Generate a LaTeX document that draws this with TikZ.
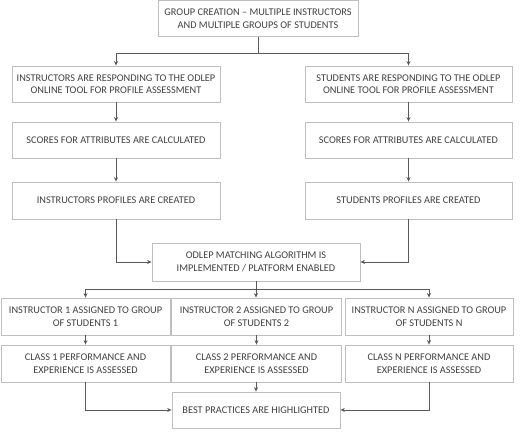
\documentclass[tikz,border=0pt]{standalone}
\usepackage{fontspec}
\setmainfont{Carlito}
\usetikzlibrary{arrows.meta}
\definecolor{boxgray}{HTML}{BFBFBF}
\definecolor{linegray}{HTML}{595959}
\definecolor{textgray}{HTML}{404040}
\begin{document}
\begin{tikzpicture}[x=1pt, y=-1pt]
	\tikzstyle{box}=[rectangle, draw=boxgray, line width=0.8pt, align=center, text=textgray, font=\fontsize{10.3}{12.5}\selectfont, inner sep=0pt, minimum height=36]
	\tikzstyle{link}=[draw=linegray, line width=0.8pt, -{Stealth[length=4.5pt, width=4pt]}]
	\useasboundingbox (0, 0) rectangle (520, 435);
	\draw node[box, minimum width=200] at (258, 18.5) (top) {GROUP CREATION -- MULTIPLE INSTRUCTORS\\AND MULTIPLE GROUPS OF STUDENTS};
	\draw node[box, minimum width=208] at (116, 84) (ins1) {INSTRUCTORS ARE RESPONDING TO THE ODLEP\\ONLINE TOOL FOR PROFILE ASSESSMENT};
	\draw node[box, minimum width=207] at (408.5, 84) (stu1) {STUDENTS ARE RESPONDING TO THE ODLEP\\ONLINE TOOL FOR PROFILE ASSESSMENT};
	\draw node[box, minimum width=208] at (116, 140) (ins2) {SCORES FOR ATTRIBUTES ARE CALCULATED};
	\draw node[box, minimum width=207] at (408.5, 140) (stu2) {SCORES FOR ATTRIBUTES ARE CALCULATED};
	\draw node[box, minimum width=208, minimum height=37] at (116, 200.5) (ins3) {INSTRUCTORS PROFILES ARE CREATED};
	\draw node[box, minimum width=207, minimum height=37] at (408.5, 200.5) (stu3) {STUDENTS PROFILES ARE CREATED};
	\draw node[box, minimum width=208, minimum height=38] at (256, 262) (match) {ODLEP MATCHING ALGORITHM IS\\IMPLEMENTED / PLATFORM ENABLED};
	\draw node[box, minimum width=169, minimum height=37] at (85.5, 316.5) (asg1) {INSTRUCTOR 1 ASSIGNED TO GROUP\\OF STUDENTS 1};
	\draw node[box, minimum width=170, minimum height=37] at (256.5, 316.5) (asg2) {INSTRUCTOR 2 ASSIGNED TO GROUP\\OF STUDENTS 2};
	\draw node[box, minimum width=168, minimum height=37] at (429, 316.5) (asgN) {INSTRUCTOR N ASSIGNED TO GROUP\\OF STUDENTS N};
	\draw node[box, minimum width=169, minimum height=37] at (85.5, 363.5) (cls1) {CLASS 1 PERFORMANCE AND\\EXPERIENCE IS ASSESSED};
	\draw node[box, minimum width=170, minimum height=37] at (256.5, 363.5) (cls2) {CLASS 2 PERFORMANCE AND\\EXPERIENCE IS ASSESSED};
	\draw node[box, minimum width=168, minimum height=37] at (429, 363.5) (clsN) {CLASS N PERFORMANCE AND\\EXPERIENCE IS ASSESSED};
	\draw node[box, minimum width=168] at (256, 410) (best) {BEST PRACTICES ARE HIGHLIGHTED};

	\draw [link] (top.south) -- ++(0, 17) -| (ins1.north);
	\draw [link] (top.south) -- ++(0, 17) -| (stu1.north);
	\draw [link] (ins1) -- (ins2);
	\draw [link] (stu1) -- (stu2);
	\draw [link] (ins2) -- (ins3);
	\draw [link] (stu2) -- (stu3);
	\draw [link] (ins3.south) |- (match.west);
	\draw [link] (stu3.south) |- (match.east);
	\draw [link] (match.south) -- ++(0, 8) -| (asg1.north);
	\draw [link] (match.south) -- (match.south |- asg2.north);
	\draw [link] (match.south) -- ++(0, 8) -| (asgN.north);
	\draw [link] (asg1) -- (cls1);
	\draw [link] (asg2) -- (cls2);
	\draw [link] (asgN) -- (clsN);
	\draw [link] (cls1.south) |- (best.west);
	\draw [link] (cls2.south -| best.north) -- (best.north);
	\draw [link] (clsN.south) |- (best.east);
\end{tikzpicture}
\end{document}
